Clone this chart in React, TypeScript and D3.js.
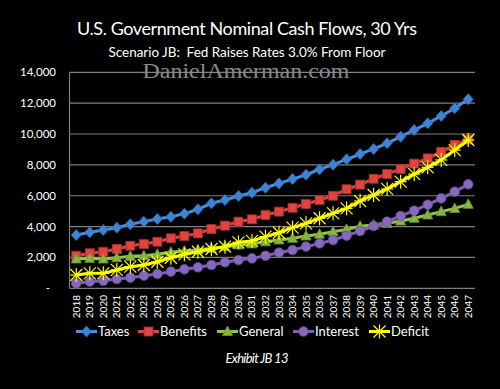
import React from "react";
import * as d3 from "d3";

const years = d3.range(2018, 2048).map(String);
const taxes = [3450, 3630, 3780, 3930, 4150, 4320, 4490, 4640, 4840, 5120, 5510, 5720, 5980, 6200, 6520, 6800, 7080, 7360, 7710, 8010, 8360, 8700, 9030, 9400, 9830, 10260, 10690, 11170, 11670, 12250];
const benefits = [2110, 2270, 2370, 2550, 2760, 2870, 3020, 3240, 3390, 3560, 3840, 4060, 4320, 4470, 4750, 4970, 5220, 5460, 5720, 6000, 6420, 6720, 7100, 7410, 7740, 8080, 8420, 8840, 9300, 9640];
const general = [1900, 1940, 1900, 1980, 2070, 2110, 2200, 2330, 2420, 2480, 2590, 2700, 2810, 2880, 3020, 3130, 3240, 3390, 3500, 3670, 3820, 4020, 4100, 4210, 4360, 4540, 4750, 4970, 5180, 5440];
const interest = [320, 430, 490, 600, 690, 820, 930, 1080, 1230, 1360, 1510, 1690, 1830, 1940, 2110, 2310, 2480, 2700, 2910, 3130, 3410, 3710, 4040, 4320, 4690, 5030, 5420, 5830, 6260, 6740];
const deficit = [860, 970, 970, 1190, 1400, 1510, 1720, 1980, 2200, 2370, 2550, 2700, 2980, 3070, 3350, 3600, 3930, 4210, 4540, 4860, 5180, 5660, 6050, 6440, 6910, 7400, 7840, 8320, 8960, 9610];
const yTicks = [0, 2000, 4000, 6000, 8000, 10000, 12000, 14000];

const series = [
  { name: "Taxes", values: taxes, line: "#4a8fdc", fill: "#3f84d4", stroke: "#2f6db8", marker: "diamond" },
  { name: "Benefits", values: benefits, line: "#d9453f", fill: "#de4440", stroke: "#a52c28", marker: "square" },
  { name: "General", values: general, line: "#93c44a", fill: "#86b63e", stroke: "#6a9630", marker: "triangle" },
  { name: "Interest", values: interest, line: "#8062b6", fill: "#8668bd", stroke: "#6a4c9e", marker: "circle" },
  { name: "Deficit", values: deficit, line: "#ffff00", fill: "#ffff00", stroke: "#ffff00", marker: "star" },
];

function Marker({ kind, x, y, s }: { kind: string; x: number; y: number; s: any }) {
  if (kind === "diamond")
    return <path d={`M${x},${y - 5.5}L${x + 5},${y}L${x},${y + 5.5}L${x - 5},${y}Z`} fill={s.fill} stroke={s.stroke} strokeWidth={0.8} />;
  if (kind === "square")
    return <rect x={x - 4.5} y={y - 4.5} width={9} height={9} fill={s.fill} stroke={s.stroke} strokeWidth={0.8} />;
  if (kind === "triangle")
    return <path d={`M${x},${y - 5.5}L${x + 5},${y + 4}L${x - 5},${y + 4}Z`} fill={s.fill} stroke={s.stroke} strokeWidth={0.8} />;
  if (kind === "circle")
    return <circle cx={x} cy={y} r={4.8} fill={s.fill} stroke={s.stroke} strokeWidth={0.8} />;
  const r = 6;
  return (
    <g stroke="#ffff00" strokeWidth={1.2}>
      <line x1={x - r} y1={y - r} x2={x + r} y2={y + r} />
      <line x1={x - r} y1={y + r} x2={x + r} y2={y - r} />
      <line x1={x} y1={y - r - 1} x2={x} y2={y + r + 1} />
      <line x1={x - r} y1={y} x2={x + r} y2={y} />
    </g>
  );
}

export default function App() {
  const W = 500, H = 389;
  const x = d3.scaleBand().domain(years).range([69.5, 475]);
  const y = d3.scaleLinear().domain([0, 14000]).range([288.3, 72.3]);
  const cx = (yr: string) => (x(yr) as number) + x.bandwidth() / 2;
  const line = d3.line<number>().x((_, i) => cx(years[i])).y((d) => y(d));
  const font = "Lato, 'Open Sans', sans-serif";
  const legendX = [76, 138, 217, 293, 369];

  return (
    <svg width={W} height={H} style={{ position: "absolute", left: 0, top: 0, background: "#000" }} fontFamily={font}>
      <rect width={W} height={H} fill="#000" />
      <text x={247} y={35} fill="#fff" fontSize={18} textAnchor="middle" textLength={340}>U.S. Government Nominal Cash Flows, 30 Yrs</text>
      <text x={247} y={57} fill="#fff" fontSize={13.5} textAnchor="middle" textLength={277} xmlSpace="preserve">Scenario JB:  Fed Raises Rates 3.0% From Floor</text>
      {yTicks.map((t) => (
        <g key={t}>
          <line x1={69.5} x2={475} y1={y(t)} y2={y(t)} stroke="#7f7f7f" strokeWidth={1.2} />
          <text x={t === 0 ? 50 : 56} y={y(t) + 4} fill="#fff" fontSize={11.5} textAnchor="end">{t === 0 ? "-" : d3.format(",")(t)}</text>
        </g>
      ))}
      <text x={246} y={78} fill="#8a8a8a" fontSize={20} textAnchor="middle" fontFamily="'Liberation Serif', 'DejaVu Serif', serif" textLength={207} lengthAdjust="spacingAndGlyphs">DanielAmerman.com</text>
      <line x1={69.5} x2={69.5} y1={72.3} y2={288.3} stroke="#7f7f7f" strokeWidth={1.2} />
      {years.map((yr) => (
        <text key={yr} transform={`translate(${cx(yr) + 3.5},${295}) rotate(-90)`} fill="#fff" fontSize={10} textAnchor="end">{yr}</text>
      ))}
      {series.map((s) => (
        <g key={s.name}>
          <path d={line(s.values) as string} fill="none" stroke={s.line} strokeWidth={3} />
          {s.values.map((v, i) => (
            <Marker key={i} kind={s.marker} x={cx(years[i])} y={y(v)} s={s} />
          ))}
        </g>
      ))}
      {series.map((s, i) => (
        <g key={s.name}>
          <line x1={legendX[i]} x2={legendX[i] + 21} y1={331.5} y2={331.5} stroke={s.line} strokeWidth={3} />
          <Marker kind={s.marker} x={legendX[i] + 10.5} y={331.5} s={s} />
          <text x={legendX[i] + 22} y={336} fill="#fff" fontSize={13}>{s.name}</text>
        </g>
      ))}
      <text x={257} y={363} fill="#fff" fontSize={13} fontStyle="italic" textAnchor="middle" textLength={63}>Exhibit JB 13</text>
    </svg>
  );
}
